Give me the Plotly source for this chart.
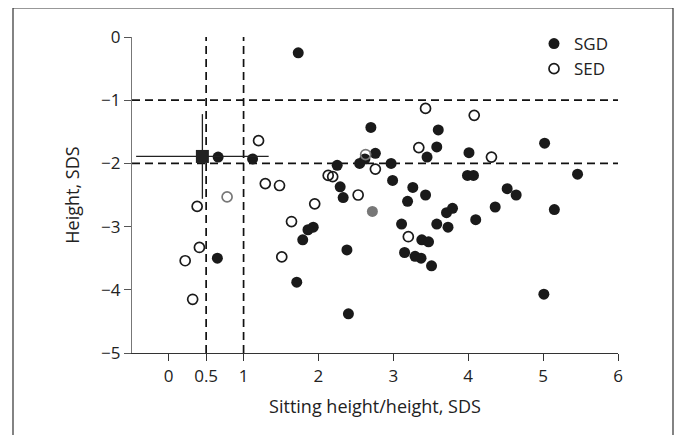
import plotly.graph_objects as go

# SGD (filled)
sgd_x = [0.66, 1.12, 1.73, 2.70, 3.60, 3.58, 3.45, 4.01, 2.62, 2.76, 2.55, 2.97, 2.25, 2.29,
         2.99, 3.26, 3.99, 4.07, 5.02, 5.46, 4.52, 4.64, 4.36, 4.10, 5.15, 5.01, 2.33, 3.43,
         3.19, 1.93, 1.86, 1.79, 1.71, 2.38, 2.40, 3.11, 3.38, 3.47, 3.15, 3.29, 3.37, 3.51,
         3.58, 3.73, 3.71, 3.79, 0.65]
sgd_y = [-1.90, -1.93, -0.25, -1.43, -1.47, -1.74, -1.90, -1.83, -1.93, -1.84, -2.00, -2.00,
         -2.03, -2.37, -2.27, -2.38, -2.19, -2.19, -1.68, -2.17, -2.40, -2.50, -2.69, -2.89,
         -2.73, -4.07, -2.54, -2.50, -2.60, -3.01, -3.05, -3.21, -3.88, -3.37, -4.38, -2.96,
         -3.21, -3.24, -3.41, -3.47, -3.50, -3.62, -2.96, -3.01, -2.78, -2.71, -3.50]

# SED (open)
sed_x = [1.20, 1.29, 1.48, 3.43, 4.08, 3.34, 2.76, 2.13, 2.19, 4.31, 2.53, 1.95, 1.64, 1.51,
         3.20, 0.38, 0.41, 0.22, 0.32]
sed_y = [-1.64, -2.32, -2.35, -1.13, -1.24, -1.75, -2.09, -2.19, -2.21, -1.90, -2.50, -2.64,
         -2.92, -3.48, -3.16, -2.68, -3.33, -3.54, -4.15]

# grey highlighted points
grey_open_x = [0.78, 2.63]
grey_open_y = [-2.53, -1.86]
grey_fill_x = [2.72]
grey_fill_y = [-2.76]

# mean +/- SD
mean_x = [0.45]
mean_y = [-1.89]
sd_x = [0.885]
sd_y = [0.67]

# reference lines
vlines = [0.5, 1]
hlines = [-1, -2]

x_ticks = [0, 0.5, 1, 2, 3, 4, 5, 6]
x_tick_text = ["0", "0.5", "1", "2", "3", "4", "5", "6"]
y_ticks = [0, -1, -2, -3, -4, -5]

XMIN, XMAX = -0.49, 6
YMIN, YMAX = -5, 0

FONT = "Open Sans"
ink = "#1a1a1a"
MS = 11

fig = go.Figure()

fig.add_trace(go.Scatter(x=sgd_x, y=sgd_y, mode="markers", name="SGD",
                         marker=dict(symbol="circle", size=MS, color=ink,
                                     line=dict(width=0))))
fig.add_trace(go.Scatter(x=sed_x, y=sed_y, mode="markers", name="SED",
                         marker=dict(symbol="circle-open", size=MS - 1, color=ink,
                                     line=dict(width=1.7, color=ink))))
fig.add_trace(go.Scatter(x=grey_open_x, y=grey_open_y, mode="markers", showlegend=False,
                         marker=dict(symbol="circle-open", size=MS - 1, color="#777777",
                                     line=dict(width=1.7, color="#777777"))))
fig.add_trace(go.Scatter(x=grey_fill_x, y=grey_fill_y, mode="markers", showlegend=False,
                         marker=dict(symbol="circle", size=MS, color="#777777")))
fig.add_trace(go.Scatter(x=mean_x, y=mean_y, mode="markers", showlegend=False,
                         marker=dict(symbol="square", size=13, color="#222222"),
                         error_x=dict(type="data", array=sd_x, width=0, thickness=1.3, color="#222222"),
                         error_y=dict(type="data", array=sd_y, width=0, thickness=1.3, color="#222222")))

shapes = []
for v in vlines:
    shapes.append(dict(type="line", xref="x", yref="y", x0=v, x1=v, y0=YMIN, y1=YMAX,
                       line=dict(color="#111111", width=1.7, dash="8px,5px"), layer="below"))
for h in hlines:
    shapes.append(dict(type="line", xref="x", yref="y", x0=XMIN, x1=XMAX, y0=h, y1=h,
                       line=dict(color="#111111", width=1.7, dash="8px,5px"), layer="below"))

# the page body adds an 8px offset; layout in figure coordinates compensates
OFF = 8
W, H = 683, 435
ml, mt = 132 - OFF, 37 - OFF
plot_right, plot_bottom = 618 - OFF, 353 - OFF
mr, mb = W - plot_right, H - plot_bottom
pw, ph = plot_right - ml, plot_bottom - mt


def px_x(p):
    return (p - OFF - ml) / pw


def px_y(p):
    return (plot_bottom - (p - OFF)) / ph


# outer frame
shapes.append(dict(type="rect", xref="paper", yref="paper",
                   x0=px_x(13), x1=px_x(673), y0=px_y(460), y1=px_y(8),
                   line=dict(color="#333333", width=1.2), fillcolor="rgba(0,0,0,0)"))

fig.update_layout(
    width=W, height=H,
    margin=dict(l=ml, r=mr, t=mt, b=mb, autoexpand=False),
    paper_bgcolor="white", plot_bgcolor="white",
    font=dict(family=FONT, size=17, color="#222222"),
    shapes=shapes,
    showlegend=True,
    legend=dict(x=px_x(534), y=px_y(26), xanchor="left", yanchor="top",
                font=dict(size=17, family=FONT, color="#222222"),
                bgcolor="rgba(0,0,0,0)", tracegroupgap=0, itemwidth=30),
    xaxis=dict(range=[XMIN, XMAX], tickvals=x_ticks, ticktext=x_tick_text,
               showgrid=False, zeroline=False, showline=True, linecolor="#333333", linewidth=1.2,
               ticks="outside", ticklen=7, tickcolor="#333333", tickwidth=1.2,
               tickfont=dict(size=17),
               title=dict(text="Sitting height/height, SDS", font=dict(size=18), standoff=14)),
    yaxis=dict(range=[YMIN, YMAX], tickvals=y_ticks,
               showgrid=False, zeroline=False, showline=True, linecolor="#777777", linewidth=1.2,
               ticks="outside", ticklen=7, tickcolor="#555555", tickwidth=1.2,
               tickfont=dict(size=17),
               title=dict(text="Height, SDS", font=dict(size=18), standoff=16)),
)

fig.write_html("out.html")
